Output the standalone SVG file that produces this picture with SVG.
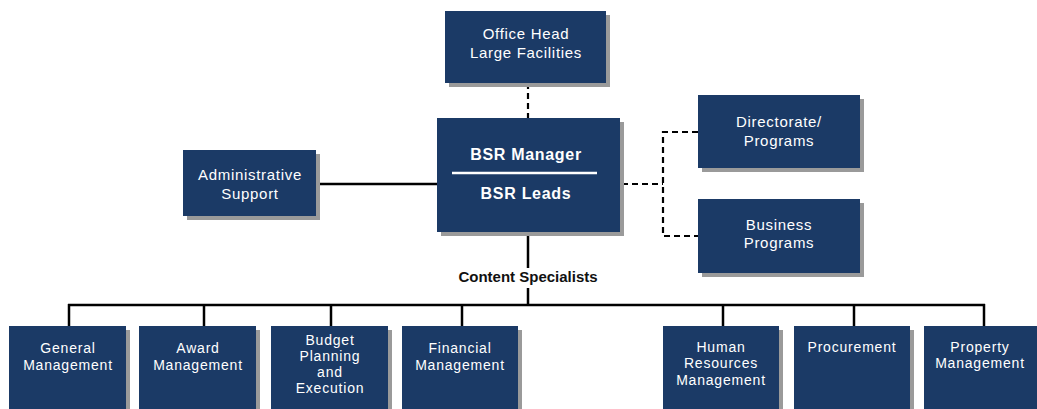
<svg xmlns="http://www.w3.org/2000/svg" width="1037" height="409" viewBox="0 0 1037 409">
<style>
.box{fill:#1b3a66}
.sh{fill:#9a9a9a}
.t{font-family:"Liberation Sans",Arial,sans-serif;fill:#ffffff;text-anchor:middle;font-size:15px;letter-spacing:0.7px}
.s{font-size:14px;letter-spacing:0.8px}
.b{font-weight:bold;font-size:16px}
.solid{stroke:#000;stroke-width:2.5;fill:none}
.dash{stroke:#000;stroke-width:2.2;fill:none;stroke-dasharray:6 4}
.lbl{font-family:"Liberation Sans",Arial,sans-serif;font-weight:bold;font-size:15px;fill:#111;text-anchor:middle}
</style>
<rect width="1037" height="409" fill="#ffffff"/>
<g id="connectors">
<line class="dash" x1="528" y1="83" x2="528" y2="118"/>
<line class="solid" x1="316" y1="184" x2="437" y2="184"/>
<polyline class="dash" points="622,184 663,184"/>
<polyline class="dash" points="698,132 663,132 663,236 698,236"/>
<line class="solid" x1="528" y1="232" x2="528" y2="268"/>
<line class="solid" x1="528" y1="288" x2="528" y2="305"/>
<line class="solid" x1="68" y1="305" x2="985" y2="305"/>
<line class="solid" x1="69" y1="304" x2="69" y2="326"/>
<line class="solid" x1="204" y1="304" x2="204" y2="326"/>
<line class="solid" x1="331" y1="304" x2="331" y2="326"/>
<line class="solid" x1="462" y1="304" x2="462" y2="326"/>
<line class="solid" x1="723" y1="304" x2="723" y2="326"/>
<line class="solid" x1="854" y1="304" x2="854" y2="326"/>
<line class="solid" x1="984" y1="304" x2="984" y2="326"/>
</g>
<text class="lbl" x="528" y="282">Content Specialists</text>
<g id="office-head">
<rect class="sh" x="449" y="15" width="161" height="72"/>
<rect class="box" x="445" y="11" width="161" height="72"/>
<text class="t" x="526" y="39">Office Head</text>
<text class="t" x="526" y="58">Large Facilities</text>
</g>
<g id="bsr">
<rect class="sh" x="441" y="122" width="183" height="114"/>
<rect class="box" x="437" y="118" width="183" height="114"/>
<text class="t b" x="526" y="160">BSR Manager</text>
<line x1="452" y1="173" x2="597" y2="173" stroke="#ffffff" stroke-width="2.5"/>
<text class="t b" x="526" y="199">BSR Leads</text>
</g>
<g id="admin">
<rect class="sh" x="187" y="154" width="133" height="66"/>
<rect class="box" x="183" y="150" width="133" height="66"/>
<text class="t" x="250" y="180">Administrative</text>
<text class="t" x="250" y="199">Support</text>
</g>
<g id="directorate">
<rect class="sh" x="702" y="99" width="162" height="73"/>
<rect class="box" x="698" y="95" width="162" height="73"/>
<text class="t" x="779" y="127">Directorate/</text>
<text class="t" x="779" y="146">Programs</text>
</g>
<g id="business">
<rect class="sh" x="702" y="203" width="162" height="74"/>
<rect class="box" x="698" y="199" width="162" height="74"/>
<text class="t" x="779" y="230">Business</text>
<text class="t" x="779" y="248">Programs</text>
</g>
<g id="general">
<rect class="sh" x="13" y="330" width="117" height="85"/>
<rect class="box" x="9" y="326" width="117" height="85"/>
<text class="t s" x="68" y="353">General</text>
<text class="t s" x="68" y="370">Management</text>
</g>
<g id="award">
<rect class="sh" x="143" y="330" width="117" height="85"/>
<rect class="box" x="139" y="326" width="117" height="85"/>
<text class="t s" x="198" y="353">Award</text>
<text class="t s" x="198" y="370">Management</text>
</g>
<g id="budget">
<rect class="sh" x="275" y="330" width="117" height="85"/>
<rect class="box" x="271" y="326" width="117" height="85"/>
<text class="t s" x="330" y="345">Budget</text>
<text class="t s" x="330" y="361">Planning</text>
<text class="t s" x="330" y="377">and</text>
<text class="t s" x="330" y="393">Execution</text>
</g>
<g id="financial">
<rect class="sh" x="406" y="330" width="116" height="85"/>
<rect class="box" x="402" y="326" width="116" height="85"/>
<text class="t s" x="460" y="353">Financial</text>
<text class="t s" x="460" y="370">Management</text>
</g>
<g id="human">
<rect class="sh" x="667" y="330" width="116" height="85"/>
<rect class="box" x="663" y="326" width="116" height="85"/>
<text class="t s" x="721" y="352">Human</text>
<text class="t s" x="721" y="368">Resources</text>
<text class="t s" x="721" y="385">Management</text>
</g>
<g id="procurement">
<rect class="sh" x="798" y="330" width="116" height="85"/>
<rect class="box" x="794" y="326" width="116" height="85"/>
<text class="t s" x="852" y="352">Procurement</text>
</g>
<g id="property">
<rect class="sh" x="928" y="330" width="113" height="85"/>
<rect class="box" x="924" y="326" width="113" height="85"/>
<text class="t s" x="980" y="352">Property</text>
<text class="t s" x="980" y="368">Management</text>
</g>
</svg>
